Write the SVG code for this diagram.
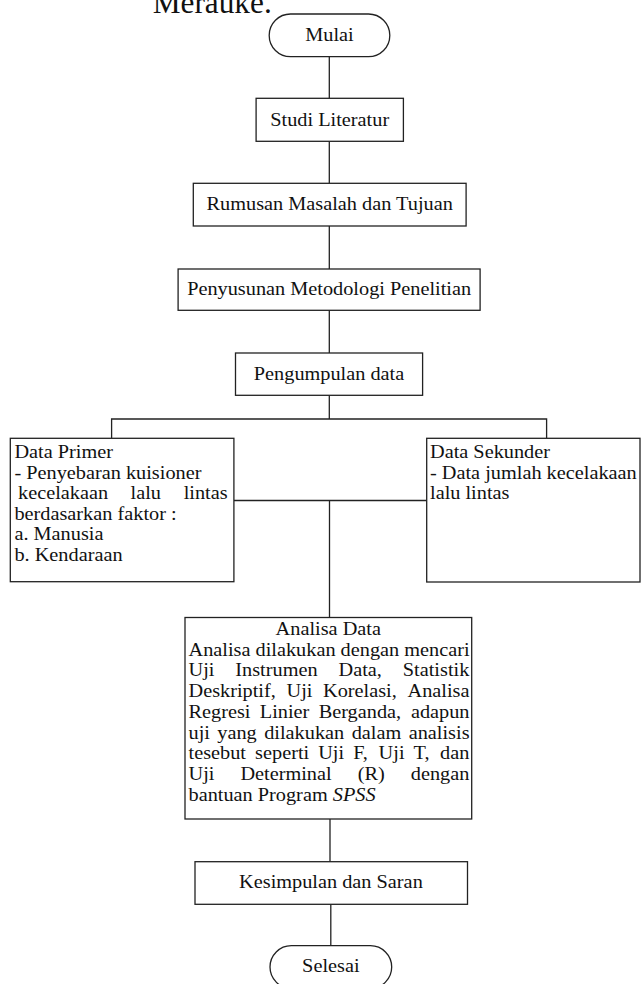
<svg xmlns="http://www.w3.org/2000/svg" width="644" height="984" viewBox="0 0 644 984">
<style>
.bx{fill:#fff;stroke:#222;stroke-width:1.3}
.cn{fill:none;stroke:#222;stroke-width:1.3}
text{font-family:"Liberation Serif","Times New Roman",serif;font-size:18px;fill:#111}
.c{text-anchor:middle}
.it{font-style:italic}
</style>
<rect width="644" height="984" fill="#fff"/>
<text x="152.7" y="13.3" style="font-size:31.3px">Merauke.</text>
<g id="connectors">
<path class="cn" d="M329.3 56.7V98.3M329.3 141.3V183.3M329.3 226V269M329.3 310.3V353M329.3 395.3V419M111.6 438.3V419H546.6V438.3M233.9 500.5H426.7M329.5 500.5V617.5M330 819V861.7M330.8 904.3V945.7"/>
</g>
<g id="mulai">
<rect class="bx" x="269.2" y="14" width="120.6" height="42.7" rx="21.3"/>
<text class="c" transform="scale(1.128 1)" x="292.1" y="40.8">Mulai</text>
</g>
<g id="studi">
<rect class="bx" x="256.1" y="98.3" width="147.3" height="43"/>
<text class="c" transform="scale(1.128 1)" x="292.3" y="126">Studi Literatur</text>
</g>
<g id="rumusan">
<rect class="bx" x="193.3" y="183.3" width="272.8" height="42.7"/>
<text class="c" transform="scale(1.128 1)" x="292.3" y="210">Rumusan Masalah dan Tujuan</text>
</g>
<g id="metodologi">
<rect class="bx" x="178.1" y="269" width="302" height="41.3"/>
<text class="c" transform="scale(1.128 1)" x="291.8" y="295">Penyusunan Metodologi Penelitian</text>
</g>
<g id="pengumpulan">
<rect class="bx" x="235.5" y="353" width="187.1" height="42.3"/>
<text class="c" transform="scale(1.128 1)" x="291.7" y="380">Pengumpulan data</text>
</g>
<g id="primer">
<rect class="bx" x="10.3" y="438.3" width="223.6" height="143.4"/>
<text transform="scale(1.128 1)" x="12.77" y="458.3">Data Primer</text>
<text transform="scale(1.128 1)" x="12.77" y="478.8">- Penyebaran kuisioner</text>
<text transform="scale(1.128 1)" y="499.3"><tspan x="15.96">kecelakaan</tspan><tspan x="115.78">lalu</tspan><tspan x="162.85">lintas</tspan></text>
<text transform="scale(1.128 1)" x="12.77" y="519.8">berdasarkan faktor :</text>
<text transform="scale(1.128 1)" x="12.77" y="540.3">a. Manusia</text>
<text transform="scale(1.128 1)" x="12.77" y="560.8">b. Kendaraan</text>
</g>
<g id="sekunder">
<rect class="bx" x="426.7" y="438.3" width="213.3" height="143.7"/>
<text transform="scale(1.128 1)" x="381.2" y="458.3">Data Sekunder</text>
<text transform="scale(1.128 1)" x="381.2" y="478.8">- Data jumlah kecelakaan</text>
<text transform="scale(1.128 1)" x="381.2" y="499.3">lalu lintas</text>
</g>
<g id="analisa">
<rect class="bx" x="185" y="617.5" width="286.7" height="201.5"/>
<text class="c" transform="scale(1.128 1)" x="291.05" y="635">Analisa Data</text>
<text transform="scale(1.128 1)" x="167.11" y="655.75">Analisa dilakukan dengan mencari</text>
<text transform="scale(1.128 1)" y="676.5"><tspan x="167.11">Uji</tspan><tspan x="208.6">Instrumen</tspan><tspan x="300.09">Data,</tspan><tspan x="357.09">Statistik</tspan></text>
<text transform="scale(1.128 1)" y="697.25"><tspan x="167.11">Deskriptif,</tspan><tspan x="253.99">Uji</tspan><tspan x="286.35">Korelasi,</tspan><tspan x="361.26">Analisa</tspan></text>
<text transform="scale(1.128 1)" y="718"><tspan x="167.11">Regresi</tspan><tspan x="230.32">Linier</tspan><tspan x="282.54">Berganda,</tspan><tspan x="364.27">adapun</tspan></text>
<text transform="scale(1.128 1)" y="738.75"><tspan x="167.11">uji</tspan><tspan x="192.64">yang</tspan><tspan x="234.22">dilakukan</tspan><tspan x="311.79">dalam</tspan><tspan x="362.32">analisis</tspan></text>
<text transform="scale(1.128 1)" y="759.5"><tspan x="167.11">tesebut</tspan><tspan x="226.15">seperti</tspan><tspan x="282.09">Uji</tspan><tspan x="313.12">F,</tspan><tspan x="335.64">Uji</tspan><tspan x="366.67">T,</tspan><tspan x="390.16">dan</tspan></text>
<text transform="scale(1.128 1)" y="780.25"><tspan x="167.11">Uji</tspan><tspan x="213.12">Determinal</tspan><tspan x="317.11">(R)</tspan><tspan x="364.18">dengan</tspan></text>
<text transform="scale(1.128 1)" x="167.11" y="801">bantuan Program <tspan class="it">SPSS</tspan></text>
</g>
<g id="kesimpulan">
<rect class="bx" x="195" y="861.7" width="272.5" height="42.6"/>
<text class="c" transform="scale(1.128 1)" x="293.4" y="888.3">Kesimpulan dan Saran</text>
</g>
<g id="selesai">
<rect class="bx" x="270" y="945.7" width="121.7" height="42.7" rx="21.3"/>
<text class="c" transform="scale(1.128 1)" x="293.3" y="972.3">Selesai</text>
</g>
</svg>
